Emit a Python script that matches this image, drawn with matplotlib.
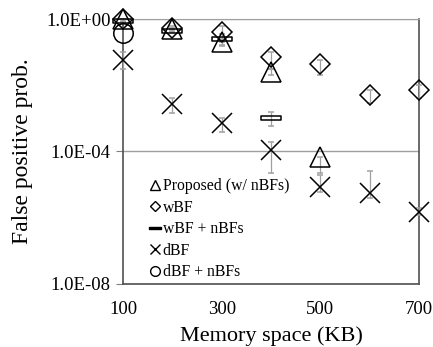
import matplotlib
matplotlib.use("Agg")
import matplotlib.pyplot as plt
from matplotlib.path import Path
from matplotlib.lines import Line2D
import numpy as np

plt.rcParams['font.family'] = ['Liberation Serif', 'DejaVu Serif']

# Data (memory KB -> false positive probability)
prop_x = [100, 200, 300, 400, 500]
prop_y = [1.0, 0.5, 0.2, 0.025, 7e-5]
prop_lo = [1.0, 0.45, 0.17, 0.02, 2.2e-5]
prop_hi = [1.0, 0.55, 0.25, 0.03, 7e-5]

wbf_x = [100, 200, 300, 400, 500, 600, 700]
wbf_y = [1.0, 0.55, 0.42, 0.073, 0.044, 5.2e-3, 7.3e-3]
wbf_lo = [0.9, 0.5, 0.2, 0.03, 0.02, 3.0e-3, 4.0e-3]
wbf_hi = [1.0, 0.6, 0.6, 0.1, 0.06, 7.0e-3, 1.0e-2]

wbfn_x = [100, 200, 300, 400]
wbfn_y = [0.9, 0.45, 0.25, 1.0e-3]
wbfn_lo = [0.8, 0.4, 0.15, 6.0e-4]
wbfn_hi = [1.0, 0.5, 0.35, 1.6e-3]

dbf_x = [100, 200, 300, 400, 500, 600, 700]
dbf_y = [0.06, 2.8e-3, 7.0e-4, 1.1e-4, 8.3e-6, 5.5e-6, 1.5e-6]
dbf_lo = [0.03, 1.5e-3, 4.0e-4, 2.2e-5, 6.0e-6, 4.0e-6, 1.2e-6]
dbf_hi = [0.1, 4.0e-3, 1.0e-3, 2.0e-4, 2.0e-5, 2.5e-5, 2.0e-6]

dbfn_x = [100]
dbfn_y = [0.38]

x_ticks = [100, 300, 500, 700]
y_ticks = [1e0, 1e-4, 1e-8]
y_tick_labels = ["1.0E+00", "1.0E-04", "1.0E-08"]

fig = plt.figure(figsize=(4.33, 3.47), dpi=100)
ax = fig.add_axes([0.284, 0.182, 0.684, 0.763])
ax.set_yscale('log')
ax.set_xlim(100, 700)
ax.set_ylim(1e-8, 1e0)

bar_marker = Path([(-1, -0.22), (1, -0.22), (1, 0.22), (-1, 0.22), (-1, -0.22)],
                  [Path.MOVETO, Path.LINETO, Path.LINETO, Path.LINETO, Path.CLOSEPOLY])

def err(y, lo, hi):
    y = np.array(y); lo = np.array(lo); hi = np.array(hi)
    return [np.clip(y - lo, 0, None), np.clip(hi - y, 0, None)]

ecol = '#a0a0a0'
common = dict(linestyle='none', ecolor=ecol, elinewidth=0.9, capsize=2,
              capthick=0.9, mfc='none', mec='black', clip_on=False, zorder=3)

ax.errorbar(prop_x, prop_y, yerr=err(prop_y, prop_lo, prop_hi), marker='^', ms=14, mew=1.1, **common)
ax.errorbar(wbf_x, wbf_y, yerr=err(wbf_y, wbf_lo, wbf_hi), marker='D', ms=10, mew=1.1, **common)
ax.errorbar(wbfn_x, wbfn_y, yerr=err(wbfn_y, wbfn_lo, wbfn_hi), marker=bar_marker, ms=15, mew=1.1, **common)
ax.errorbar(dbf_x, dbf_y, yerr=err(dbf_y, dbf_lo, dbf_hi), marker='x', ms=14, mew=1.1, **common)
ax.plot(dbfn_x, dbfn_y, linestyle='none', marker='o', ms=14, mfc='none', mec='black', mew=1.1,
        clip_on=False, zorder=3)

ax.set_xticks(x_ticks)
ax.set_xticklabels([str(v) for v in x_ticks], fontsize=13.5)
ax.set_yticks(y_ticks)
ax.set_yticklabels(y_tick_labels, fontsize=13.5)
ax.yaxis.set_minor_locator(matplotlib.ticker.NullLocator())
ax.tick_params(axis='x', length=0, pad=12)
ax.tick_params(axis='y', length=5, color='#808080', pad=4)
ax.grid(axis='y', which='major', color='#a0a0a0', linewidth=1.0)
ax.set_axisbelow(True)

for s in ['left', 'bottom', 'right']:
    ax.spines[s].set_color('#505050')
    ax.spines[s].set_linewidth(1.2)
ax.spines['top'].set_color('#a0a0a0')

ax.set_xlabel("Memory space (KB)", fontsize=16, labelpad=6)
ax.set_ylabel("False positive prob.", fontsize=17, labelpad=9)

handles = [
    Line2D([], [], linestyle='none', marker='^', ms=7, mfc='none', mec='black', mew=1.0),
    Line2D([], [], linestyle='none', marker='D', ms=5, mfc='none', mec='black', mew=1.0),
    Line2D([], [], linestyle='none', marker=bar_marker, ms=8, mfc='black', mec='black', mew=1.0),
    Line2D([], [], linestyle='none', marker='x', ms=7, mfc='none', mec='black', mew=1.0),
    Line2D([], [], linestyle='none', marker='o', ms=7, mfc='none', mec='black', mew=1.0),
]
labels = ["Proposed (w/ nBFs)", "wBF", "wBF + nBFs", "dBF", "dBF + nBFs"]
ax.legend(handles, labels, loc='lower left', bbox_to_anchor=(0.076, -0.005), frameon=False,
          fontsize=11.3, handlelength=0.6, handletextpad=0.2, labelspacing=0.35,
          borderpad=0.3, borderaxespad=0)

fig.savefig("out.png", dpi=100)
